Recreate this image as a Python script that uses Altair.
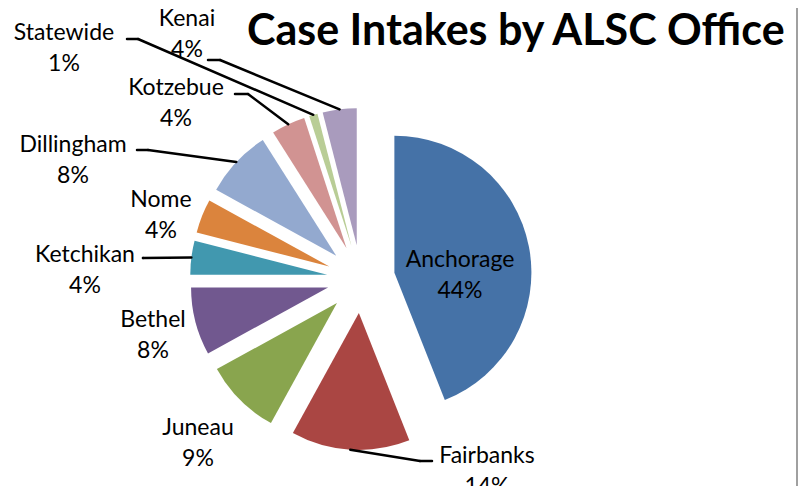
import altair as alt
import pandas as pd

# ---- data ----
offices = ["Anchorage", "Fairbanks", "Juneau", "Bethel", "Ketchikan",
           "Nome", "Dillingham", "Kotzebue", "Statewide", "Kenai"]
share_pct = [44, 14, 9, 8, 4, 4, 8, 4, 1, 4]
title_text = "Case Intakes by ALSC Office"

# ---- styles / layout (plot-area pixels) ----
colors = ["#4572A7", "#AA4643", "#89A54E", "#71588F", "#4198AF",
          "#DB843D", "#93A9CF", "#D19392", "#B9CD96", "#A99BBD"]
label_x = [452, 479, 190, 145, 77, 153, 65, 168, 56, 179]
label_y = [259, 455, 427, 319, 254, 199, 144, 87, 32, 18]
has_leader = [0, 1, 0, 0, 1, 0, 1, 1, 1, 1]
leader_lx = [0, 424, 0, 0, 135, 0, 129, 227, 119, 200]
leader_ex = [0, 412, 0, 0, 135, 0, 140, 240, 130, 212]
leader_ey = [0, 453, 0, 0, 250, 0, 142, 86, 31, 52]

W, H = 791, 478
CX, CY = 353, 271      # pie centre
R = 137                # slice radius
D = 34                 # explosion distance

df = pd.DataFrame({
    "office": offices, "pct": share_pct, "order": list(range(len(offices))),
    "lab_x": label_x, "lab_y": label_y, "lead": has_leader,
    "lead_lx": leader_lx, "lead_ex": leader_ex, "lead_ey": leader_ey,
})

base = alt.Chart(df).transform_joinaggregate(
    total="sum(pct)"
).transform_window(
    cum="sum(pct)", sort=[alt.SortField("order")], frame=[None, 0]
).transform_calculate(
    start="2*PI*(datum.cum - datum.pct)/datum.total",
    end="2*PI*datum.cum/datum.total",
).transform_calculate(
    mid="(datum.start + datum.end)/2",
).transform_calculate(
    ax=f"{CX} + {D}*sin(datum.mid)",
    ay=f"{CY} - {D}*cos(datum.mid)",
).transform_calculate(
    px=f"datum.ax + {R}*sin(datum.mid)",
    py=f"datum.ay - {R}*cos(datum.mid)",
    label="datum.office + '\\n' + datum.pct + '%'",
)

slices = base.mark_arc(radius=R).encode(
    theta=alt.Theta("start:Q", scale=None, stack=None),
    theta2=alt.Theta2("end:Q"),
    x=alt.X("ax:Q", scale=None, axis=None),
    y=alt.Y("ay:Q", scale=None, axis=None),
    color=alt.Color("office:N", scale=alt.Scale(domain=offices, range=colors), legend=None),
)

labels = base.mark_text(
    lineBreak="\n", align="center", baseline="alphabetic",
    font="Lato", fontSize=23, lineHeight=31, color="black",
).encode(
    x=alt.X("lab_x:Q", scale=None, axis=None),
    y=alt.Y("lab_y:Q", scale=None, axis=None),
    text=alt.Text("label:N"),
)

leader_long = base.transform_filter("datum.lead == 1").mark_rule(
    color="black", strokeWidth=2.5, strokeCap="round"
).encode(
    x=alt.X("lead_ex:Q", scale=None, axis=None),
    y=alt.Y("lead_ey:Q", scale=None, axis=None),
    x2=alt.X2("px:Q"), y2=alt.Y2("py:Q"),
)

leader_short = base.transform_filter("datum.lead == 1").mark_rule(
    color="black", strokeWidth=2.5, strokeCap="round"
).encode(
    x=alt.X("lead_lx:Q", scale=None, axis=None),
    y=alt.Y("lead_ey:Q", scale=None, axis=None),
    x2=alt.X2("lead_ex:Q"), y2=alt.Y2("lead_ey:Q"),
)

title = alt.Chart(pd.DataFrame({"t": [title_text]})).mark_text(
    align="left", baseline="alphabetic", font="Lato", fontWeight="bold",
    fontSize=43, color="black",
).encode(x=alt.value(239), y=alt.value(37), text="t:N")

border = alt.Chart(pd.DataFrame({"b": [0]})).mark_rule(
    color="#A0A0A0", strokeWidth=2
).encode(x=alt.value(789), y=alt.value(0), y2=alt.value(H))

chart = alt.layer(slices, leader_long, leader_short, labels, title, border).properties(
    width=W, height=H, padding=0,
    autosize=alt.AutoSizeParams(type="none"),
).configure_view(stroke=None)

chart.save("out.html", embed_options={"renderer": "svg", "actions": False})
